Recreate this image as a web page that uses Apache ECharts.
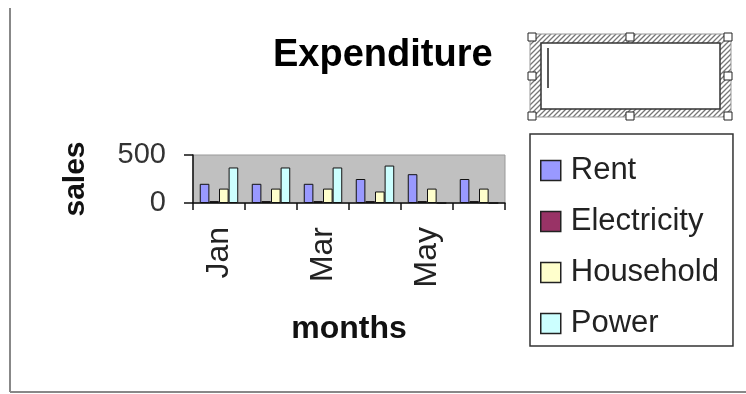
<!DOCTYPE html>
<html lang="en">
<head>
    <meta charset="UTF-8">
    <title>Expenditure</title>
    <script type="text/javascript" src="https://cdn.jsdelivr.net/npm/echarts@6/dist/echarts.min.js"></script>
    <style>
        html, body { margin: 0; padding: 0; background: #fff; }
        #chart1 { width: 746px; height: 394px; }
    </style>
</head>
<body>
    <div id="chart1"></div>
</body>
<script type="text/javascript">
    // data
    var months = ['Jan', 'Feb', 'Mar', 'Apr', 'May', 'Jun']
    var rent = [200, 200, 200, 250, 300, 250]
    var electricity = [20, 20, 20, 20, 20, 20]
    var household = [150, 150, 150, 120, 150, 150]
    var power = [370, 370, 370, 390, 0, 0]
    var yTicks = [0, 500]

    var font = "'Liberation Sans', Arial, sans-serif"

    // diagonal hatch used by the selected (empty) text box
    var hatch = document.createElement('canvas')
    hatch.width = 5
    hatch.height = 5
    var hc = hatch.getContext('2d')
    hc.fillStyle = '#fff'
    hc.fillRect(0, 0, 5, 5)
    hc.strokeStyle = '#777'
    hc.lineWidth = 1.3
    hc.beginPath()
    hc.moveTo(0, 5); hc.lineTo(5, 0)
    hc.moveTo(-1, 1); hc.lineTo(1, -1)
    hc.moveTo(4, 6); hc.lineTo(6, 4)
    hc.stroke()

    function handle(x, y) {
        return {
            type: 'rect',
            shape: { x: x - 4, y: y - 4, width: 8, height: 8 },
            style: { fill: '#fff', stroke: '#222', lineWidth: 1 }
        }
    }

    var chart = echarts.init(document.getElementById('chart1'))

    function barSeries(name, data, color) {
        return {
            name: name,
            type: 'bar',
            data: data,
            barGap: '0%',
            barCategoryGap: '26%',
            itemStyle: { color: color, borderColor: '#111', borderWidth: 1 }
        }
    }

    var option = {
        backgroundColor: '#fff',
        animation: false,
        title: {
            text: 'Expenditure',
            left: 268,
            top: 32,
            textStyle: { fontFamily: font, fontSize: 38, fontWeight: 'bold', color: '#000' }
        },
        legend: {
            orient: 'vertical',
            left: 530,
            top: 134,
            padding: [21, 14, 7, 10],
            borderColor: '#333',
            borderWidth: 1.5,
            itemWidth: 20,
            itemHeight: 20,
            itemGap: 20,
            icon: 'rect',
            itemStyle: { borderColor: '#222', borderWidth: 1.5 },
            textStyle: { fontFamily: font, fontSize: 31, lineHeight: 30, color: '#222', padding: [0, 0, 0, 5] },
            data: ['Rent', 'Electricity', 'Household', 'Power']
        },
        grid: {
            left: 193,
            top: 155,
            width: 312,
            height: 48,
            show: true,
            backgroundColor: '#c0c0c0',
            borderColor: '#999',
            borderWidth: 1
        },
        xAxis: {
            type: 'category',
            data: months,
            name: 'months',
            nameLocation: 'middle',
            nameGap: 110,
            nameTextStyle: { fontFamily: font, fontSize: 32, fontWeight: 'bold', color: '#111' },
            axisLine: { lineStyle: { color: '#111', width: 1.5 } },
            axisTick: { show: true, interval: 0, length: 7, lineStyle: { color: '#111', width: 1.5 } },
            axisLabel: {
                interval: 1,
                rotate: 90,
                margin: 24,
                fontFamily: font,
                fontSize: 32,
                color: '#222'
            }
        },
        yAxis: {
            type: 'value',
            min: yTicks[0],
            max: yTicks[yTicks.length - 1],
            interval: 500,
            name: 'sales',
            nameLocation: 'middle',
            nameRotate: 90,
            nameGap: 102,
            nameTextStyle: { fontFamily: font, fontSize: 30, fontWeight: 'bold', color: '#111' },
            axisLine: { show: true, lineStyle: { color: '#111', width: 1.5 } },
            axisTick: { show: true, length: 9, lineStyle: { color: '#111', width: 1.5 } },
            splitLine: { show: false },
            axisLabel: { margin: 27, fontFamily: font, fontSize: 29, color: '#333' }
        },
        series: [
            barSeries('Rent', rent, '#9999ff'),
            barSeries('Electricity', electricity, '#993366'),
            barSeries('Household', household, '#ffffcc'),
            barSeries('Power', power, '#ccffff')
        ],
        graphic: [
            // picture frame
            { type: 'line', shape: { x1: 10, y1: 8, x2: 10, y2: 392 }, style: { stroke: '#888', lineWidth: 2 } },
            { type: 'line', shape: { x1: 10, y1: 392, x2: 746, y2: 392 }, style: { stroke: '#888', lineWidth: 2 } },
            // selected empty text box
            {
                type: 'rect',
                shape: { x: 530, y: 34, width: 201, height: 83 },
                style: { fill: { image: hatch, repeat: 'repeat' }, stroke: '#999', lineWidth: 1 }
            },
            {
                type: 'rect',
                shape: { x: 541, y: 43, width: 179, height: 66 },
                style: { fill: '#fff', stroke: '#333', lineWidth: 1.5 }
            },
            { type: 'line', shape: { x1: 548, y1: 48, x2: 548, y2: 88 }, style: { stroke: '#222', lineWidth: 1.5 } },
            handle(532, 37), handle(630, 37), handle(728, 37),
            handle(532, 76), handle(728, 76),
            handle(532, 116), handle(630, 116), handle(728, 116)
        ]
    }
    chart.setOption(option)
</script>
</html>
